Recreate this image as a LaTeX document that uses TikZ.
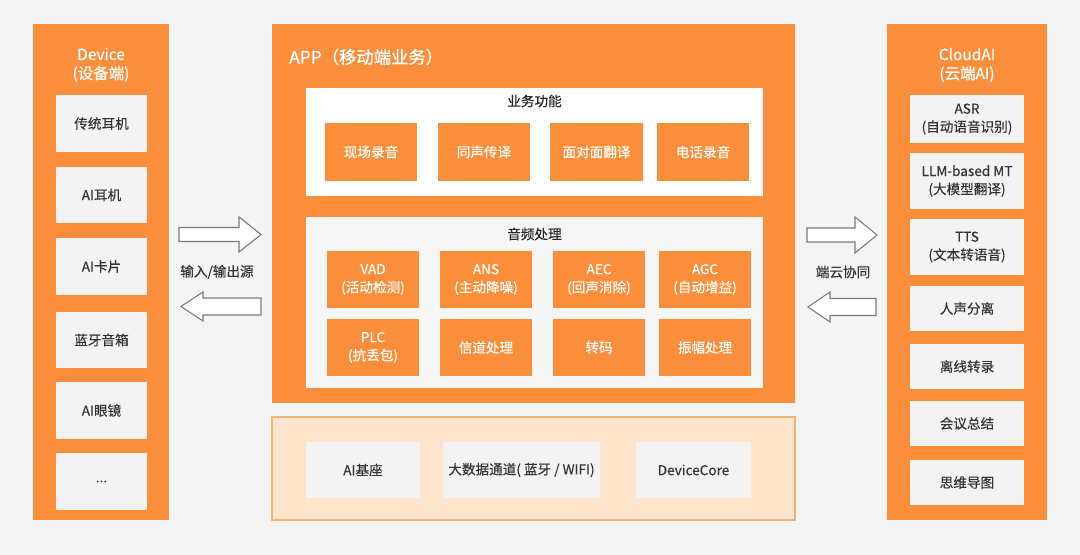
\documentclass[tikz,border=0pt]{standalone}
\usepackage{fontspec}
\setmainfont{Noto Sans CJK SC}
\newfontfamily\medfont{Noto Sans CJK SC}[FakeBold=0.35]
\newfontfamily\semifont{Noto Sans CJK SC}[FakeBold=0.8]
\definecolor{org}{HTML}{FA8E3B}
\definecolor{bg}{HTML}{F4F4F4}
\definecolor{boxgray}{HTML}{F3F3F3}
\definecolor{audiobg}{HTML}{F6F6F6}
\definecolor{txt}{HTML}{333333}
\definecolor{peach}{HTML}{FDE4CB}
\definecolor{peachline}{HTML}{F2B575}
\definecolor{arrline}{HTML}{7A7A7A}
\newcommand{\bx}[7]{\node[#1, minimum width={(#5-#3)*0.75pt}, minimum height={(#6-#4)*0.75pt}] (#2) at ({(#3+#5)/2},{(#4+#6)/2}) {#7};}
\begin{document}
\begin{tikzpicture}[x=0.75pt,y=-0.75pt,
  base/.style={inner sep=0pt, align=center, font=\medfont\fontsize{10.2}{13.6}\selectfont},
  col/.style={base, fill=org},
  gbox/.style={base, fill=boxgray, text=txt},
  obox/.style={base, fill=org, text=white},
  wbox/.style={base, fill=white},
  abox/.style={base, fill=audiobg},
  pbox/.style={base, fill=peach, draw=peachline, line width=0.9pt},
  coltitle/.style={inner sep=0pt, align=center, text=white, font=\semifont\fontsize{11.6}{14.25}\selectfont},
  subtitle/.style={inner sep=0pt, text=black!85, font=\medfont\fontsize{10.2}{14}\selectfont},
  blockarrow/.style={draw=arrline, fill=white, line width=0.8pt, line join=miter},
  arrlabel/.style={inner sep=0pt, text=txt, font=\medfont\fontsize{10.2}{14}\selectfont}
]
\fill[bg] (0,0) rectangle (1080,555);
\useasboundingbox (0,0) rectangle (1080,555);

% Device column
\bx{col}{dev}{33}{24}{169}{520}{}
\node[coltitle] (devt) at (101,65) {Device\\(设备端)};
\bx{gbox}{d1}{56}{95}{147}{152}{传统耳机}
\bx{gbox}{d2}{56}{167}{147}{223}{AI耳机}
\bx{gbox}{d3}{56}{238}{147}{295}{AI卡片}
\bx{gbox}{d4}{56}{312}{147}{368}{蓝牙音箱}
\bx{gbox}{d5}{56}{382}{147}{439}{AI眼镜}
\bx{gbox}{d6}{56}{453}{147}{510}{...}

% APP
\bx{col}{app}{272}{24}{795}{403}{}
\node[inner sep=0pt, anchor=west, text=white, font=\semifont\fontsize{13}{15}\selectfont] (appt) at (289,57) {APP（移动端业务）};
\bx{wbox}{biz}{306}{88}{763}{196}{}
\node[subtitle] (bizt) at (534.5,101) {业务功能};
\bx{obox}{b1}{325}{123}{417}{181}{现场录音}
\bx{obox}{b2}{438}{123}{530}{181}{同声传译}
\bx{obox}{b3}{550}{123}{643}{181}{面对面翻译}
\bx{obox}{b4}{657}{123}{749}{181}{电话录音}

\bx{abox}{aud}{306}{217}{763}{388}{}
\node[subtitle] (audt) at (534.5,234) {音频处理};
\bx{obox}{a1}{327}{251}{419}{308}{VAD\\(活动检测)}
\bx{obox}{a2}{440}{251}{532}{308}{ANS\\(主动降噪)}
\bx{obox}{a3}{553}{251}{645}{308}{AEC\\(回声消除)}
\bx{obox}{a4}{659}{251}{751}{308}{AGC\\(自动增益)}
\bx{obox}{a5}{327}{319}{419}{376}{PLC\\(抗丢包)}
\bx{obox}{a6}{440}{319}{532}{376}{信道处理}
\bx{obox}{a7}{553}{319}{645}{376}{转码}
\bx{obox}{a8}{659}{319}{751}{376}{振幅处理}

% Bottom layer
\bx{pbox}{core}{272}{417}{795}{520}{}
\bx{gbox}{c1}{306}{442}{420}{498}{AI基座}
\bx{gbox}{c2}{443}{442}{600}{498}{大数据通道( 蓝牙 / WIFI)}
\bx{gbox}{c3}{636}{442}{751}{498}{DeviceCore}

% CloudAI column
\bx{col}{cloud}{887}{24}{1047}{520}{}
\node[coltitle] (cloudt) at (967,65) {CloudAI\\(云端AI)};
\bx{gbox}{r1}{910}{95}{1024}{143}{ASR\\(自动语音识别)}
\bx{gbox}{r2}{910}{153}{1024}{209}{LLM-based MT\\(大模型翻译)}
\bx{gbox}{r3}{910}{219}{1024}{275}{TTS\\(文本转语音)}
\bx{gbox}{r4}{910}{286}{1024}{331}{人声分离}
\bx{gbox}{r5}{910}{344}{1024}{389}{离线转录}
\bx{gbox}{r6}{910}{401}{1024}{446}{会议总结}
\bx{gbox}{r7}{910}{460}{1024}{505}{思维导图}

% Block arrows
\draw[blockarrow] (179,227.5) -- (239,227.5) -- (239,217) -- (261,234.5) -- (239,252) -- (239,241.5) -- (179,241.5) -- cycle;
\draw[blockarrow] (261,298) -- (203,298) -- (203,292) -- (181,306.5) -- (203,321) -- (203,315) -- (261,315) -- cycle;
\node[arrlabel] (l1) at (217,272) {输入/输出源};

\draw[blockarrow] (807,228) -- (855,228) -- (855,217) -- (877,235) -- (855,253) -- (855,242) -- (807,242) -- cycle;
\draw[blockarrow] (876,298.5) -- (830,298.5) -- (830,292) -- (808,307) -- (830,322) -- (830,315.5) -- (876,315.5) -- cycle;
\node[arrlabel] (l2) at (843,272) {端云协同};
\end{tikzpicture}
\end{document}
